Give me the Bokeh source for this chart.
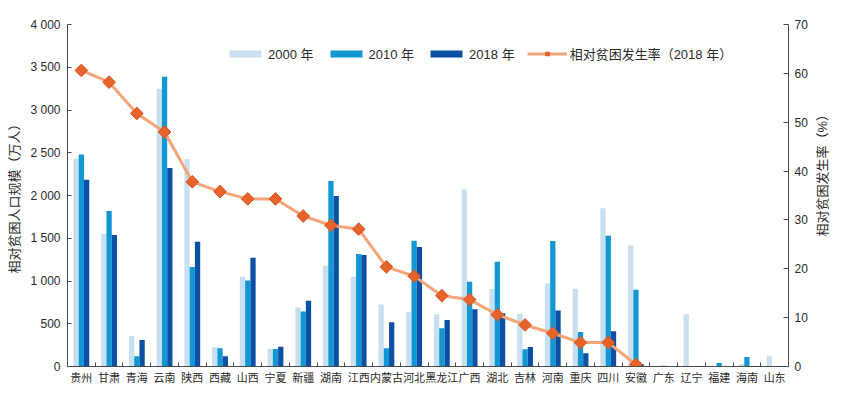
import numpy as np
from bokeh.plotting import figure
from bokeh.models import (Range1d, LinearAxis, FixedTicker, Legend, LegendItem,
                          ColumnDataSource)
from bokeh.embed import file_html
from bokeh.resources import INLINE

provinces = ["贵州", "甘肃", "青海", "云南", "陕西", "西藏", "山西", "宁夏", "新疆",
             "湖南", "江西", "内蒙古", "河北", "黑龙江", "广西", "湖北", "吉林", "河南",
             "重庆", "四川", "安徽", "广东", "辽宁", "福建", "海南", "山东"]

pop_2000 = [2430, 1550, 357, 3250, 2425, 225, 1050, 205, 690, 1180, 1050, 725, 635,
            612, 2070, 905, 615, 970, 910, 1850, 1415, 0, 610, 0, 30, 120]
pop_2010 = [2480, 1820, 120, 3390, 1165, 213, 1005, 205, 642, 2170, 1315, 213, 1470,
            448, 990, 1225, 201, 1468, 404, 1530, 897, 10, 0, 40, 110, 0]
pop_2018 = [2185, 1538, 310, 2323, 1459, 119, 1272, 232, 768, 1995, 1304, 518, 1397,
            545, 671, 624, 229, 654, 155, 413, 25, 0, 0, 0, 0, 0]
# relative poverty incidence 2018 (%), given for the first 21 provinces
rate_2018 = [60.6, 58.2, 51.8, 48.0, 37.8, 35.8, 34.3, 34.3, 30.8, 28.9, 28.1, 20.4,
             18.5, 14.5, 13.7, 10.6, 8.5, 6.8, 4.9, 4.9, 0.4]

left_ticks = [0, 500, 1000, 1500, 2000, 2500, 3000, 3500, 4000]
left_tick_labels = ["0", "500", "1 000", "1 500", "2 000", "2 500", "3 000", "3 500", "4 000"]
right_ticks = [0, 10, 20, 30, 40, 50, 60, 70]

series_names = ["2000 年", "2010 年", "2018 年"]
line_name = "相对贫困发生率（2018 年）"
left_title = "相对贫困人口规模（万人）"
right_title = "相对贫困发生率（%）"

FONT = "Liberation Sans, Noto Sans CJK SC"
TXT = "#2a2a2a"
AX = "#4a4a4a"
C2000, C2010, C2018 = "#c8def1", "#0f98d3", "#0b50a4"
LINE_C, MARK_C = "#f6a47a", "#e8622b"

n = len(provinces)
centers = np.arange(n) + 0.5
bw = 0.19

src = ColumnDataSource(dict(
    x0=centers - bw, x1=centers, x2=centers + bw,
    p2000=pop_2000, p2010=pop_2010, p2018=pop_2018))
rsrc = ColumnDataSource(dict(x=centers[:len(rate_2018)], r=rate_2018))

p = figure(width=845, height=394, output_backend="svg", toolbar_location=None,
           x_range=Range1d(0, n), y_range=Range1d(0, 4000),
           min_border_left=67, min_border_right=57, min_border_top=24,
           min_border_bottom=28)
p.extra_y_ranges = {"rate": Range1d(0, 70)}
p.xgrid.visible = False
p.ygrid.visible = False
p.outline_line_color = None
p.background_fill_color = "white"
p.border_fill_color = "white"

b1 = p.vbar(x="x0", top="p2000", width=bw, source=src, fill_color=C2000, line_color=None)
b2 = p.vbar(x="x1", top="p2010", width=bw, source=src, fill_color=C2010, line_color=None)
b3 = p.vbar(x="x2", top="p2018", width=bw, source=src, fill_color=C2018, line_color=None)
ln = p.line(x="x", y="r", source=rsrc, y_range_name="rate", line_color=LINE_C, line_width=3)
mk = p.scatter(x="x", y="r", source=rsrc, y_range_name="rate", marker="square",
               angle=np.pi / 4, size=9, fill_color=MARK_C, line_color="#d9561f",
               line_width=1)

# x axis
xa = p.xaxis[0]
xa.ticker = FixedTicker(ticks=list(centers), minor_ticks=list(range(1, n)))
xa.major_label_overrides = {float(c): name for c, name in zip(centers, provinces)}
xa.major_tick_in = 0
xa.major_tick_out = 0
xa.minor_tick_in = 4
xa.minor_tick_out = 0
xa.minor_tick_line_color = AX
xa.axis_line_color = AX
xa.major_label_standoff = 5
xa.major_label_text_font = FONT
xa.major_label_text_font_size = "11px"
xa.major_label_text_color = TXT

# left axis
ya = p.yaxis[0]
ya.ticker = FixedTicker(ticks=left_ticks)
ya.major_label_overrides = {t: s for t, s in zip(left_ticks, left_tick_labels)}
ya.major_tick_in = 4
ya.major_tick_out = 0
ya.minor_tick_line_color = None
ya.axis_line_color = AX
ya.major_tick_line_color = AX
ya.major_label_standoff = 7
ya.major_label_text_font = FONT
ya.major_label_text_font_size = "12px"
ya.major_label_text_color = TXT
ya.axis_label = left_title
ya.axis_label_text_font = FONT
ya.axis_label_text_font_size = "13px"
ya.axis_label_text_font_style = "normal"
ya.axis_label_text_color = TXT
ya.axis_label_standoff = 5

# right axis
ra = LinearAxis(y_range_name="rate", ticker=FixedTicker(ticks=right_ticks))
ra.major_tick_in = 5
ra.major_tick_out = 0
ra.minor_tick_line_color = None
ra.axis_line_color = AX
ra.major_tick_line_color = AX
ra.major_label_standoff = 6
ra.major_label_text_font = FONT
ra.major_label_text_font_size = "12px"
ra.major_label_text_color = TXT
ra.axis_label = "\u3000" * 10 + right_title
ra.axis_label_text_font = FONT
ra.axis_label_text_font_size = "13px"
ra.axis_label_text_font_style = "normal"
ra.axis_label_text_color = TXT
ra.axis_label_standoff = 12
if hasattr(ra, "axis_label_orientation"):
    ra.axis_label_orientation = np.pi / 2
if hasattr(ra, "axis_label_align"):
    ra.axis_label_align = "start"
p.add_layout(ra, "right")

legend = Legend(items=[
    LegendItem(label=series_names[0], renderers=[b1]),
    LegendItem(label=series_names[1], renderers=[b2]),
    LegendItem(label=series_names[2], renderers=[b3]),
    LegendItem(label=line_name, renderers=[ln, mk]),
], orientation="horizontal", location=(158, 303),
    glyph_width=40, glyph_height=9, label_standoff=3, spacing=12,
    padding=0, margin=0, border_line_color=None, background_fill_alpha=0,
    label_text_font=FONT, label_text_font_size="13px", label_text_color=TXT)
p.add_layout(legend)

open("out.html", "w").write(file_html(p, INLINE))
